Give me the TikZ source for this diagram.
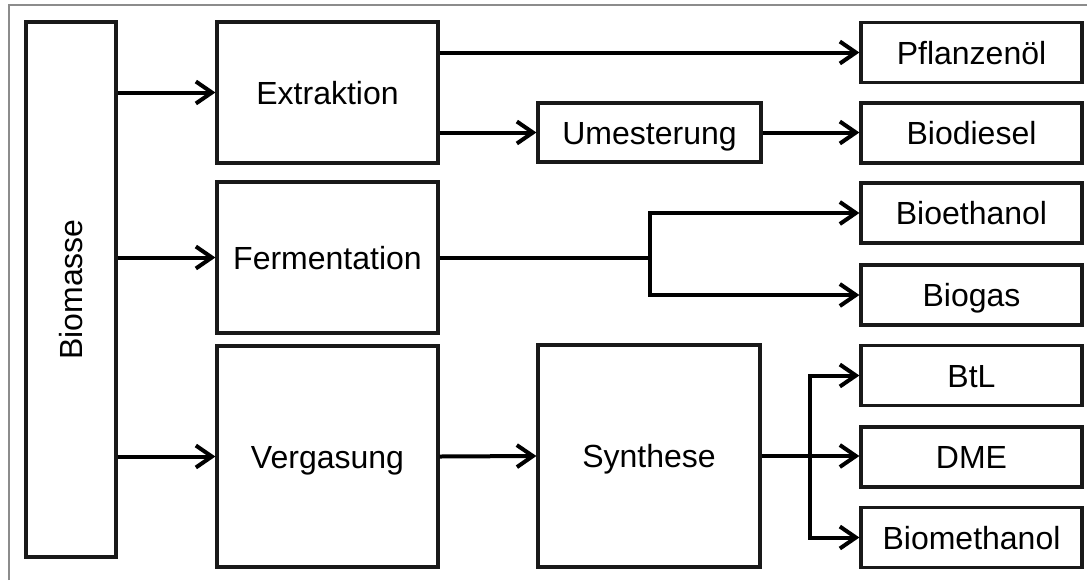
\documentclass[tikz,border=0pt]{standalone}
\usepackage{fontspec}
\setmainfont{Liberation Sans}
\usetikzlibrary{arrows.meta}
\begin{document}
\begin{tikzpicture}[x=0.5pt,y=-0.5pt,
  box/.style={draw=black!90, line width=1.6pt, fill=white, inner sep=0pt,
    font=\fontsize{16}{19}\selectfont, text height=11.5pt, text depth=0pt},
  rbox/.style={box, minimum width=110.5pt, minimum height=30pt},
  arr/.style={line width=2pt, line join=miter, -{Straight Barb[length=8pt,width=11pt]}},
  ln/.style={line width=2pt, line join=miter},
  frame/.style={draw=black!45, line width=1.3pt}]
\useasboundingbox (0,0) rectangle (1087,580);
\draw[frame] (9,580) -- (9,5) -- (1087,5);

\node[box, text height={}, text depth={}, minimum width=45pt, minimum height=267.5pt] (bio) at (71,289.5) {\rotatebox{90}{Biomasse}};
\node[box, minimum width=110.5pt, minimum height=70.5pt] (ext) at (327.5,92.5) {Extraktion};
\node[box, minimum width=110.5pt, minimum height=75.5pt] (ferm) at (327.5,257.5) {Fermentation};
\node[box, minimum width=110.5pt, minimum height=110.5pt] (verg) at (327.5,456.5) {Vergasung};
\node[box, minimum width=111.5pt, minimum height=29.5pt] (ume) at (649.5,132.5) {Umesterung};
\node[box, minimum width=111pt, minimum height=111pt] (syn) at (649,456) {Synthese};

\node[rbox] (pfl) at (971.5,52.5) {Pflanzenöl};
\node[rbox] (bdi) at (971.5,133) {Biodiesel};
\node[rbox] (beth) at (971.5,213) {Bioethanol};
\node[rbox] (bgas) at (971.5,295) {Biogas};
\node[rbox] (btl) at (971.5,375.5) {BtL};
\node[rbox] (dme) at (971.5,457) {DME};
\node[rbox] (bmeth) at (971.5,537.5) {Biomethanol};

\coordinate (s1) at (650,0);
\coordinate (s2) at (810,0);

\draw[arr] (bio.east |- ext) -- (ext.west);
\draw[arr] (bio.east |- ferm) -- (ferm.west);
\draw[arr] (bio.east |- verg) -- (verg.west);

\draw[arr] (ext.east |- pfl) -- (pfl.west);
\draw[arr] (ext.east |- ume) -- (ume.west);
\draw[arr] (ume.east) -- (ume.east -| bdi.west);

\draw[ln] (ferm.east) -- (ferm.east -| s1);
\draw[arr] (ferm.east -| s1) |- (beth.west);
\draw[arr] (ferm.east -| s1) |- (bgas.west);

\draw[arr] (verg.east) -- (syn.west);
\draw[arr] (syn.east) -- (syn.east -| dme.west);
\draw[arr] (syn.east -| s2) |- (btl.west);
\draw[arr] (syn.east -| s2) |- (bmeth.west);
\end{tikzpicture}
\end{document}
